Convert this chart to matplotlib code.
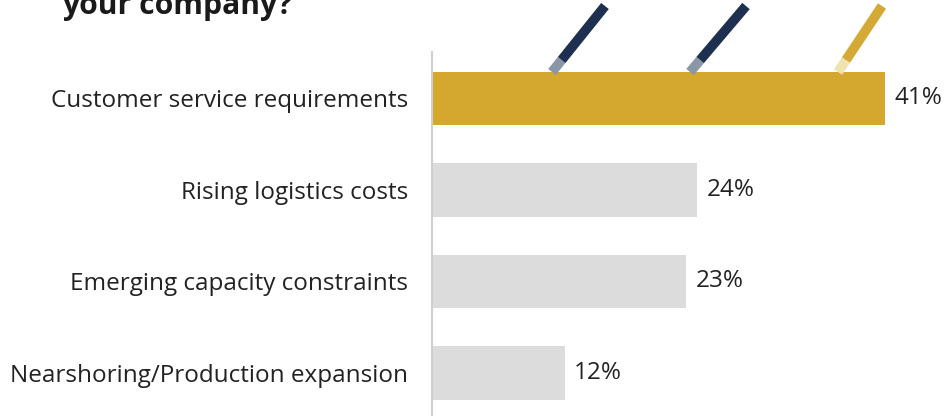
import matplotlib.pyplot as plt
from matplotlib.lines import Line2D

plt.rcParams['font.family'] = ['Open Sans', 'DejaVu Sans']

# survey answers, top to bottom
drivers = ['Customer service requirements', 'Rising logistics costs',
           'Emerging capacity constraints', 'Nearshoring/Production expansion']
shares = [41, 24, 23, 12]
bar_colors = ['#d4a72f', '#dcdcdc', '#dcdcdc', '#dcdcdc']

fig = plt.figure(figsize=(9.53, 4.16), dpi=100)
ax = fig.add_axes([432 / 953, 0, 521 / 953, 364 / 416])

pos = range(len(drivers))
ax.barh(pos, shares, height=0.58, color=bar_colors, zorder=2)
for p, v in zip(pos, shares):
    ax.text(v + 0.85, p, f'{v}%', va='center', ha='left', fontsize=17.5, color='#222222')

ax.set_xlim(0, 47.15)
ax.set_ylim(3.47, -0.508)
ax.set_yticks(list(pos))
ax.set_yticklabels(drivers, fontsize=17.5, color='#222222')
ax.tick_params(axis='y', length=0, pad=17)
ax.set_xticks([])
for side in ['top', 'right', 'bottom']:
    ax.spines[side].set_visible(False)
ax.spines['left'].set_color('#cfcfcf')
ax.spines['left'].set_linewidth(1.5)

# title, second line only
fig.text(62 / 953, 1 - 14 / 416, 'your company?', fontsize=21.7, fontweight='bold',
         color='#1a1a1a', ha='left', va='baseline')

# decorative slashes above the top bar
W, H = 953, 416
slashes = [((552, 72), (605, 6), '#1d3050', '#8a97a6'),
           ((690, 72), (746, 6), '#1d3050', '#8a97a6'),
           ((838, 72), (882, 6), '#d4a935', '#f1e3b0')]
for (x0, y0), (x1, y1), col, fade in slashes:
    t = 12 / (y0 - y1)
    xm, ym = x0 + (x1 - x0) * t, y0 - 12
    fig.add_artist(Line2D([x0 / W, xm / W], [1 - y0 / H, 1 - ym / H], color=fade,
                          lw=7, solid_capstyle='butt'))
    fig.add_artist(Line2D([xm / W, x1 / W], [1 - ym / H, 1 - y1 / H], color=col,
                          lw=7, solid_capstyle='butt'))

fig.savefig('out.png', dpi=100)
